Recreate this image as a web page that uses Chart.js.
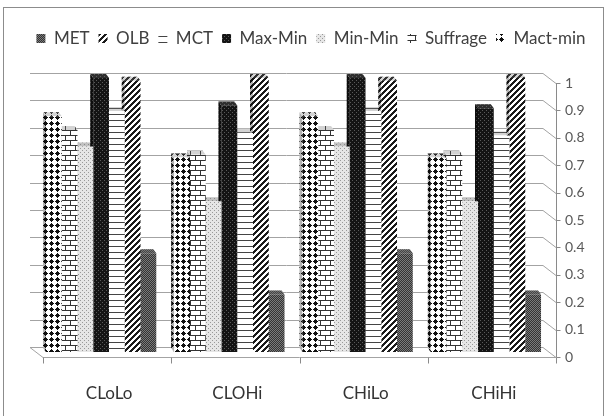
<!DOCTYPE html>
<html><head><meta charset="utf-8">
<script src="https://cdn.jsdelivr.net/npm/chart.js@4.4.0/dist/chart.umd.min.js"></script>
<style>html,body{margin:0;padding:0;background:#fff;}canvas{display:block;}</style>
</head><body>
<canvas id="c" width="607" height="416"></canvas>
<script>
// ---- data ----
const categories = ['CLoLo', 'CLOHi', 'CHiLo', 'CHiHi'];
const MET      = [0.36, 0.21, 0.36, 0.21];
const OLB      = [0.99, 1.00, 0.99, 1.00];
const MCT      = [0.88, 0.80, 0.88, 0.79];
const MaxMin   = [1.00, 0.90, 1.00, 0.89];
const MinMin   = [0.75, 0.55, 0.75, 0.55];
const Suffrage = [0.81, 0.72, 0.81, 0.72];
const MactMin  = [0.86, 0.71, 0.86, 0.71];
const yTickValues = [0, 0.1, 0.2, 0.3, 0.4, 0.5, 0.6, 0.7, 0.8, 0.9, 1];
const yTickLabels = ['0', '0.1', '0.2', '0.3', '0.4', '0.5', '0.6', '0.7', '0.8', '0.9', '1'];

// ---- patterns ----
const cv = document.getElementById('c');
const ctx = cv.getContext('2d');
function makePattern(w, h, fn) {
  const t = document.createElement('canvas'); t.width = w; t.height = h;
  const g = t.getContext('2d'); fn(g, w, h);
  return ctx.createPattern(t, 'repeat');
}
function rects(g, color, list) { g.fillStyle = color; list.forEach(r => g.fillRect(r[0], r[1], r[2] || 1, r[3] || 1)); }

const patDiamond = makePattern(6, 6, g => {
  rects(g, '#fff', [[0,0,6,6]]);
  rects(g, '#111', [[3,1],[2,2,3,1],[1,3,5,1],[2,4,3,1],[3,5]]);
});
const patBrick = makePattern(10, 10, g => {
  rects(g, '#fff', [[0,0,10,10]]);
  rects(g, '#333', [[0,0,10,1],[0,5,10,1],[0,0,1,5],[5,5,1,5]]);
});
const patLight = makePattern(4, 4, g => {
  rects(g, '#e6e6e6', [[0,0,4,4]]);
  rects(g, '#999', [[0,0],[2,2]]);
});
const patDark = makePattern(4, 4, g => {
  rects(g, '#141414', [[0,0,4,4]]);
  rects(g, '#5a5a5a', [[0,0],[2,2]]);
});
const patHoriz = makePattern(1, 6, g => {
  rects(g, '#fff', [[0,0,1,6]]);
  rects(g, '#444', [[0,0]]);
});
const patDiag = makePattern(6, 6, g => {
  for (let x = 0; x < 6; x++) for (let y = 0; y < 6; y++) {
    g.fillStyle = ((x + y) % 6 < 3) ? '#1a1a1a' : '#fff';
    g.fillRect(x, y, 1, 1);
  }
});
const patGrid = makePattern(2, 2, g => {
  rects(g, '#333', [[0,0,2,2]]);
  rects(g, '#7a7a7a', [[0,0],[1,1]]);
});

// ---- 3D decoration plugin ----
const deco = {
  id: 'deco',
  afterInit(chart) {
    const lg = chart.legend;
    if (lg) {
      const orig = lg.fit;
      lg.fit = function () { orig.call(this); this.height = 57; };
    }
  },
  beforeDraw(chart) {
    const c = chart.ctx;
    c.save();
    c.fillStyle = '#fff'; c.fillRect(0, 0, chart.width, chart.height);
    c.strokeStyle = '#8c8c8c'; c.lineWidth = 1;
    c.strokeRect(3.5, 7.5, 600, 430);
    c.restore();
  },
  beforeDatasetsDraw(chart) {
    const c = chart.ctx, a = chart.chartArea, x = chart.scales.x, y = chart.scales.y;
    c.save();
    c.lineWidth = 1;
    c.strokeStyle = '#a3a3a3';
    yTickValues.forEach(v => {
      const py = Math.round(y.getPixelForValue(v)) + 0.5;
      c.beginPath();
      c.moveTo(a.left - 7, py - 5); c.lineTo(a.right - 7, py - 5); c.lineTo(a.right + 6, py + 5);
      c.stroke();
    });
    const b = Math.round(y.getPixelForValue(0)) + 0.5;
    c.beginPath();
    c.moveTo(a.left - 7, b - 5); c.lineTo(a.left + 6, b + 5); c.lineTo(a.right + 6, b + 5);
    c.stroke();
    c.strokeStyle = '#8a8a8a';
    const ax = Math.round(a.right + 6) + 0.5;
    c.beginPath();
    c.moveTo(ax, Math.round(y.getPixelForValue(1)) + 5); c.lineTo(ax, b + 5);
    c.stroke();
    yTickValues.forEach(v => {
      const py = Math.round(y.getPixelForValue(v)) + 5.5;
      c.beginPath(); c.moveTo(ax, py); c.lineTo(ax + 4, py); c.stroke();
    });
    const half = (x.getPixelForValue(1) - x.getPixelForValue(0)) / 2;
    for (let i = 0; i <= categories.length; i++) {
      const px = Math.round(x.getPixelForValue(Math.min(i, categories.length - 1)) + (i < categories.length ? -half : half) + 6) + 0.5;
      c.beginPath(); c.moveTo(px, b + 5); c.lineTo(px, b + 11); c.stroke();
    }
    chart.data.datasets.forEach((ds, di) => {
      const meta = chart.getDatasetMeta(di);
      meta.data.forEach(el => {
        const l = el.x - el.width / 2, r = el.x + el.width / 2, t = el.y, bt = el.base;
        c.beginPath();
        c.moveTo(l, bt); c.lineTo(l, t); c.lineTo(l - 3, t - 4); c.lineTo(l - 3, bt - 4); c.closePath();
        c.fillStyle = ds.backgroundColor; c.fill();
        c.fillStyle = 'rgba(0,0,0,0.3)'; c.fill();
        c.beginPath();
        c.moveTo(l, t); c.lineTo(r, t); c.lineTo(r - 3, t - 4); c.lineTo(l - 3, t - 4); c.closePath();
        c.fillStyle = ds.backgroundColor; c.fill();
        c.fillStyle = 'rgba(110,110,110,0.3)'; c.fill();
      });
    });
    c.restore();
  }
};

Chart.defaults.font.family = 'Lato, "Open Sans", sans-serif';

new Chart(ctx, {
  type: 'bar',
  data: {
    labels: categories,
    datasets: [
      { label: 'Mact-min', data: MactMin,  backgroundColor: patDiamond },
      { label: 'Suffrage', data: Suffrage, backgroundColor: patBrick },
      { label: 'Min-Min',  data: MinMin,   backgroundColor: patLight },
      { label: 'Max-Min',  data: MaxMin,   backgroundColor: patDark },
      { label: 'MCT',      data: MCT,      backgroundColor: patHoriz },
      { label: 'OLB',      data: OLB,      backgroundColor: patDiag },
      { label: 'MET',      data: MET,      backgroundColor: patGrid }
    ]
  },
  options: {
    responsive: false,
    animation: false,
    devicePixelRatio: 1,
    layout: { padding: { left: 15, right: 0, top: 21, bottom: 0 } },
    datasets: { bar: { categoryPercentage: 0.86, barPercentage: 1.0, borderWidth: 0 } },
    plugins: {
      legend: {
        position: 'top',
        reverse: true,
        labels: { boxWidth: 9, boxHeight: 9, padding: 9, color: '#404040', font: { size: 17 } }
      },
      tooltip: { enabled: false }
    },
    scales: {
      x: {
        grid: { display: false, drawTicks: false },
        border: { display: false },
        ticks: { color: '#333', font: { size: 17 }, padding: 31, labelOffset: 8 },
        afterFit: s => { s.height = 64; }
      },
      y: {
        position: 'right',
        min: 0, max: 1,
        grid: { display: false, drawTicks: false },
        border: { display: false },
        afterBuildTicks: s => { s.ticks = yTickValues.map(v => ({ value: v })); },
        ticks: {
          color: '#595959', font: { size: 14 }, padding: 15, labelOffset: 5,
          callback: (v) => yTickLabels[yTickValues.indexOf(v)] ?? ''
        },
        afterFit: s => { s.width = 57; }
      },
      leftSpace: {
        type: 'linear',
        position: 'left',
        display: true,
        grid: { display: false, drawTicks: false },
        border: { display: false },
        ticks: { display: false },
        afterFit: s => { s.width = 22; }
      }
    }
  },
  plugins: [deco]
});
</script>
</body></html>
